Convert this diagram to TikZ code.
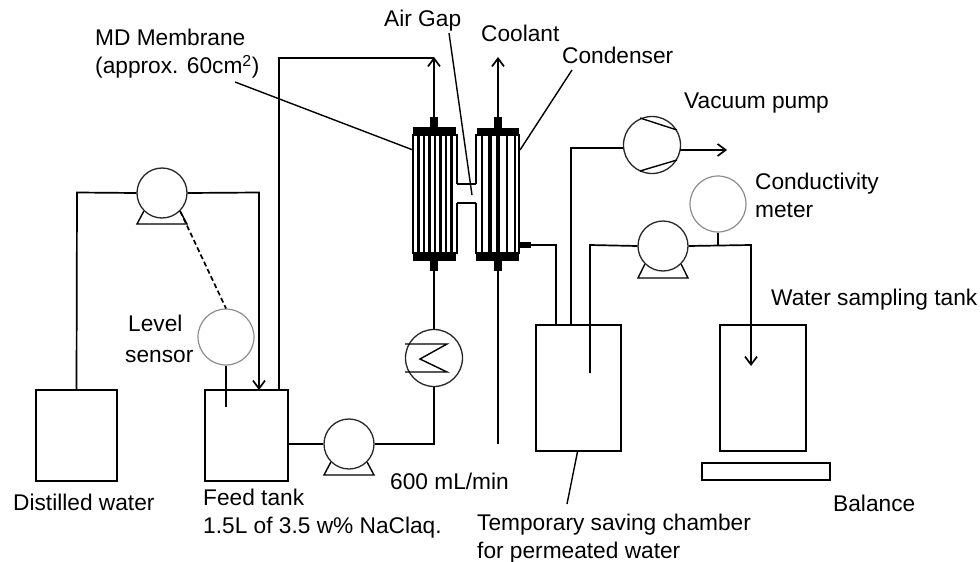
\documentclass[tikz,border=0pt]{standalone}
\usepackage{fontspec}
\setmainfont{Liberation Sans}
\usetikzlibrary{arrows.meta, positioning}

\begin{document}
\begin{tikzpicture}[
  x=1pt, y=-1pt, >={Straight Barb[length=8pt,width=12pt]},
  pipe/.style={line width=1.7pt},
  thinline/.style={line width=1.4pt},
  tank/.style={draw, line width=1.4pt, minimum size=0pt, inner sep=0pt},
  pumpbody/.style={circle, draw=black!85, line width=1.3pt, minimum size=50pt, inner sep=0pt},
  meter/.style={circle, draw=black!45, line width=1.2pt, minimum size=56pt, inner sep=0pt},
  bigbody/.style={circle, draw=black!85, line width=1.3pt, minimum size=57pt, inner sep=0pt},
  endcap/.style={fill=black, draw=none},
  tag/.style={font=\fontsize{22.7}{28}\selectfont, align=left, inner sep=0pt, anchor=west}
]
  \useasboundingbox (0,0) rectangle (980,562);

  % tanks
  \node[tank, minimum width=81pt, minimum height=91pt] (distilled) at (76.5,435.5) {};
  \node[tank, minimum width=83pt, minimum height=91pt] (feed) at (246.5,435.5) {};
  \node[tank, minimum width=85pt, minimum height=126pt] (chamber) at (578.5,388) {};
  \node[tank, minimum width=86pt, minimum height=126pt] (sampling) at (763,388) {};
  \node[tank, minimum width=128pt, minimum height=17pt] (balance) at (766,471.5) {};

  % pumps and round parts
  \node[pumpbody] (pumpa) at (162,193) {};
  \node[pumpbody] (pumpb) at (349,444) {};
  \node[pumpbody] (pumpc) at (663,246) {};
  \node[bigbody] (vacuum) at (652,145) {};
  \node[bigbody] (cooler) at (434,358) {};
  \node[meter] (level) at (226,337) {};
  \node[meter] (cond) at (718,204) {};

  % stands
  \draw[thinline] (pumpa.225) -- (137,224) -- (187,224) -- (pumpa.315);
  \draw[thinline] (pumpb.225) -- (324,475) -- (374,475) -- (pumpb.315);
  \draw[thinline] (pumpc.225) -- (638,278) -- (688,278) -- (pumpc.315);

  % marks inside
  \draw[thinline] (640,118) -- (677,130);
  \draw[thinline] (640,171) -- (677,160);
  \draw[thinline] (405,344) -- (447,344) -- (420,359) -- (447,372) -- (405,372);

  % left module
  \foreach \px in {418.5,424,429.5,435,440.5,446,451.5} {
    \fill (\px-1.1,135) rectangle (\px+1.1,253);
  }
  \draw[thinline] (457,184) -- (457,135) -- (413,135) -- (413,253) -- (457,253) -- (457,203);
  \fill[endcap] (413,127) rectangle (456,136);
  \fill[endcap] (430,117) rectangle (438,127);
  \fill[endcap] (413,252) rectangle (456,261);
  \fill[endcap] (430,261) rectangle (438,271);

  % right module
  \foreach \px/\pw in {482/1.2,490/1.6,498/1.8,507/1.2,515/1.2} {
    \fill (\px-\pw,135) rectangle (\px+\pw,253);
  }
  \draw[thinline] (476,184) -- (476,135) -- (519,135) -- (519,253) -- (476,253) -- (476,203);
  \fill[endcap] (477,128) rectangle (519,136);
  \fill[endcap] (494,117) rectangle (502,128);
  \fill[endcap] (476,252) rectangle (519,261);
  \fill[endcap] (494,261) rectangle (502,271);
  \fill[endcap] (519,242) rectangle (531,248);

  % air gap channel
  \coordinate (gapa) at (457,184);
  \coordinate (gapb) at (476,184);
  \coordinate (gapc) at (457,203);
  \coordinate (gapd) at (476,203);
  \draw[thinline] (gapa) -- (gapb);
  \draw[thinline] (gapc) -- (gapd);

  % pipes
  \coordinate (feedin) at (259,390);
  \coordinate (bypass) at (279,390);
  \coordinate (modtop) at (434,117);
  \coordinate (modbot) at (434,271);
  \coordinate (contop) at (498,117);
  \coordinate (conbot) at (498,271);
  \draw[pipe] (distilled.north) -- (77,192.5) -- (pumpa.west);
  \draw[pipe,->] (pumpa.east) -- (259,192.5) -- (feedin);
  \draw[pipe] (bypass) -- (279,58) -- (434,58);
  \draw[pipe,->] (modtop) -- (434,57);
  \draw[pipe,->] (contop) -- (498,57);
  \draw[pipe] (conbot) -- (498,444);
  \draw[pipe] (288,444) -- (pumpb.west);
  \draw[pipe] (pumpb.east) -- (434,444) -- (cooler.south);
  \draw[pipe] (cooler.north) -- (modbot);
  \draw[pipe] (531,245) -- (556,245) -- (556,325);
  \draw[pipe] (571,325) -- (571,148) -- (623,148);
  \draw[pipe,->] (680,150) -- (727,150);
  \draw[pipe] (590,373) -- (590,245) -- (pumpc.west);
  \draw[pipe,->] (pumpc.east) -- (751,245) -- (751,366);
  \draw[pipe] (cond.south) -- (718,245);
  \draw[pipe] (level.south) -- (226,407);
  \draw[pipe, dash pattern=on 5pt off 3pt] (pumpa.315) -- (level.north);

  % leaders
  \coordinate (memend) at (235,82);
  \coordinate (gapend) at (449,33);
  \coordinate (conend) at (572,70);
  \draw[thinline] (memend) -- (413,150);
  \draw[thinline] (gapend) -- (472,195);
  \draw[thinline] (conend) -- (520,150);
  \draw[thinline] (chamber.south) ++(-1,0) -- (567,504);

  % labels
  \node[tag] (lblmem) at (95,54) {MD Membrane\\(approx.\hspace{8.5pt}60cm\textsuperscript{2})};
  \node[tag] (lblgap) at (384,21) {Air Gap};
  \node[tag] (lblcool) at (481,33) {Coolant};
  \node[tag] (lblcond) at (562,55) {Condenser};
  \node[tag] (lblvac) at (684,103) {Vacuum pump};
  \node[tag] (lblcondy) at (755,195) {Conductivity\\meter};
  \node[tag] (lbllevel) at (125,339) {\hspace*{3pt}Level\\[3pt]sensor};
  \node[tag] (lblsamp) at (771,300) {Water sampling tank};
  \node[tag] (lblrate) at (390,481) {600 mL/min};
  \node[tag] (lbldist) at (13,502) {Distilled water};
  \node[tag] (lblfeed) at (203,514) {Feed tank\\1.5L of 3.5 w\% NaClaq.};
  \node[tag] (lblbal) at (833,503) {Balance};
  \node[tag] (lblsave) at (477,539) {Temporary saving chamber\\for permeated water};
\end{tikzpicture}
\end{document}
